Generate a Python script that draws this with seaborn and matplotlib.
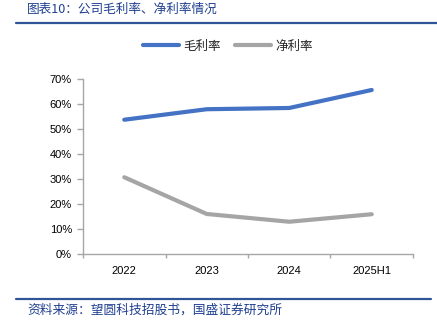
import matplotlib
matplotlib.use("Agg")
import matplotlib.pyplot as plt
import seaborn as sns
import pandas as pd
from matplotlib.ticker import FixedLocator, PercentFormatter
from matplotlib.lines import Line2D

years = ["2022", "2023", "2024", "2025H1"]
gross_margin = [53.7, 57.9, 58.4, 65.6]
net_margin = [30.7, 16.0, 12.9, 15.9]
series_names = ["毛利率", "净利率"]
title_text = "图表10：公司毛利率、净利率情况"
source_text = "资料来源：望圆科技招股书，国盛证券研究所"

sns.set_theme(style="white")
plt.rcParams["font.family"] = ["Liberation Sans", "Noto Sans CJK SC", "DejaVu Sans"]

df = pd.DataFrame({
    "year": years * 2,
    "pos": list(range(len(years))) * 2,
    "value": gross_margin + net_margin,
    "series": [series_names[0]] * len(years) + [series_names[1]] * len(years),
})

palette = {series_names[0]: "#4472C4", series_names[1]: "#A5A5A5"}

fig = plt.figure(figsize=(4.37, 3.25), dpi=100)
ax = fig.add_axes([0.19, 0.2185, 0.755, 0.5385])

sns.lineplot(data=df, x="pos", y="value", hue="series", palette=palette,
             linewidth=3.0, ax=ax, legend=False, solid_capstyle="round")

ax.set_xlim(-0.5, len(years) - 0.5)
ax.set_ylim(0, 70)
ax.set_xlabel("")
ax.set_ylabel("")
ax.yaxis.set_major_locator(FixedLocator(range(0, 71, 10)))
ax.yaxis.set_major_formatter(PercentFormatter(decimals=0))
ax.set_xticks(range(len(years)))
ax.set_xticklabels(years)
ax.xaxis.set_minor_locator(FixedLocator([i - 0.5 for i in range(len(years) + 1)]))

axis_grey = "#A6A6A6"
for side in ["top", "right"]:
    ax.spines[side].set_visible(False)
for side in ["left", "bottom"]:
    ax.spines[side].set_color(axis_grey)
    ax.spines[side].set_linewidth(1.0)

ax.tick_params(axis="y", which="major", length=4, width=1, color=axis_grey,
               labelsize=8, labelcolor="#000000", pad=4, left=True)
ax.tick_params(axis="x", which="major", length=0, labelsize=8,
               labelcolor="#000000", pad=9)
ax.tick_params(axis="x", which="minor", length=3, width=1, color=axis_grey,
               bottom=True)

# legend above the plot
handles = [Line2D([0], [0], color=palette[n], lw=3.0, solid_capstyle="round")
           for n in series_names]
fig.legend(handles, series_names, loc="center", bbox_to_anchor=(0.522, 0.858),
           ncol=2, frameon=False, handlelength=2.9, handletextpad=0.35,
           columnspacing=1.1, prop={"family": ["Noto Sans CJK SC"], "size": 9})

# header and footer
title_blue = "#1F3F8F"
fig.text(0.062, 0.972, title_text, ha="left", va="center", fontsize=9.1,
         color=title_blue, family=["Noto Sans CJK SC", "DejaVu Sans"])
fig.add_artist(Line2D([16 / 437, 1.0], [1 - 22.5 / 325] * 2,
                      color="#2F5597", lw=1.6, transform=fig.transFigure))
fig.add_artist(Line2D([16 / 437, 431 / 437], [1 - 299 / 325] * 2,
                      color="#2F5597", lw=1.6, transform=fig.transFigure))
fig.text(0.062, 1 - 310 / 325, source_text, ha="left", va="center",
         fontsize=9.2, color=title_blue, family=["Noto Sans CJK SC", "DejaVu Sans"])

fig.savefig("out.png", dpi=100, facecolor="white")
